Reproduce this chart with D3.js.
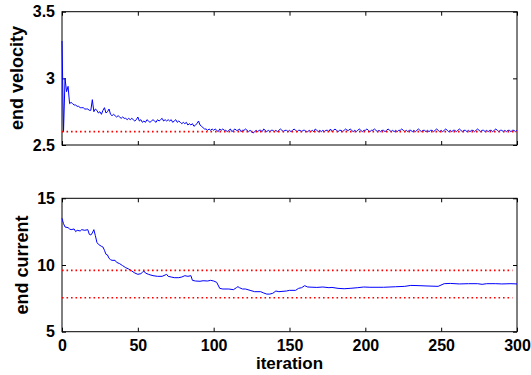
<!DOCTYPE html>
<html><head><meta charset="utf-8">
<script src="https://cdn.jsdelivr.net/npm/d3@7"></script>
<style>
html,body{margin:0;padding:0;background:#fff;}
svg{display:block;}
text{font-family:Arial,"Liberation Sans",Helvetica,sans-serif;font-weight:bold;fill:#000;}
</style></head>
<body>
<svg id="chart" width="531" height="375"></svg>
<script>
// ---- data ----
const velocity = [
3.28,2.60,3.00,2.90,2.94,2.81,2.82,2.81,2.80,2.80,
2.79,2.79,2.78,2.78,2.78,2.77,2.77,2.77,2.76,2.76,
2.84,2.75,2.77,2.76,2.74,2.75,2.73,2.76,2.78,2.74,
2.75,2.77,2.73,2.72,2.73,2.72,2.71,2.72,2.71,2.70,
2.71,2.70,2.70,2.69,2.70,2.69,2.70,2.69,2.68,2.69,
2.71,2.68,2.69,2.67,2.68,2.67,2.69,2.68,2.67,2.68,
2.69,2.68,2.67,2.69,2.68,2.69,2.70,2.68,2.69,2.68,
2.69,2.68,2.69,2.67,2.68,2.69,2.67,2.68,2.67,2.66,
2.67,2.66,2.67,2.65,2.66,2.65,2.66,2.64,2.65,2.66,
2.68,2.65,2.64,2.63,2.62,2.62,2.61,2.62,2.61,2.62,
2.61,2.62,2.61,2.60,2.62,2.61,2.62,2.61,2.61,2.60,
2.61,2.62,2.60,2.61,2.62,2.61,2.61,2.62,2.60,2.61,
2.61,2.62,2.61,2.60,2.61,2.60,2.59,2.60,2.61,2.60,
2.61,2.61,2.60,2.62,2.61,2.60,2.61,2.60,2.61,2.61,
2.60,2.61,2.60,2.61,2.62,2.61,2.60,2.61,2.61,2.60,
2.61,2.60,2.61,2.62,2.61,2.60,2.61,2.61,2.60,2.61,
2.61,2.60,2.60,2.61,2.60,2.61,2.60,2.62,2.61,2.60,
2.61,2.60,2.61,2.60,2.61,2.61,2.60,2.62,2.60,2.61,
2.62,2.61,2.60,2.61,2.61,2.60,2.61,2.62,2.61,2.61,
2.62,2.61,2.60,2.61,2.60,2.61,2.62,2.61,2.60,2.61,
2.61,2.62,2.61,2.60,2.61,2.61,2.62,2.61,2.60,2.61,
2.60,2.61,2.61,2.60,2.61,2.62,2.61,2.60,2.61,2.60,
2.61,2.60,2.61,2.61,2.62,2.61,2.60,2.61,2.60,2.61,
2.61,2.60,2.61,2.60,2.61,2.62,2.61,2.60,2.61,2.61,
2.60,2.61,2.60,2.61,2.61,2.60,2.61,2.62,2.61,2.60,
2.61,2.60,2.61,2.62,2.61,2.60,2.61,2.60,2.61,2.61,
2.60,2.61,2.62,2.61,2.60,2.61,2.61,2.60,2.61,2.60,
2.61,2.61,2.60,2.61,2.62,2.61,2.60,2.61,2.61,2.60,
2.61,2.60,2.61,2.61,2.60,2.61,2.62,2.61,2.60,2.61,
2.61,2.60,2.61,2.60,2.61,2.61,2.60,2.61,2.61,2.60,
2.61
];
const currentIter = [0,1,2,4,5,6,8,9,10,12,13,15,17,18,19,20,21,22,23,24,26,27,28,29,30,31,32,33,35,36,38,40,42,44,46,48,50,52,53,54,55,57,60,63,66,68,69,70,72,74,77,79,81,83,85,86,88,91,93,96,98,100,102,104,106,110,113,115,116,117,119,121,124,127,131,133,135,137,139,141,143,148,150,154,156,158,160,162,168,172,176,178,182,186,190,195,199,203,212,220,226,230,236,240,248,252,256,262,268,274,277,280,286,290,296,300];
const currentVal = [13.5,13.1,12.85,12.8,12.7,12.65,12.7,12.5,12.6,12.55,12.65,12.6,12.65,12.3,12.25,12.4,12.65,12.2,11.7,11.55,11.4,11.35,11.1,10.8,10.75,10.5,10.4,10.35,10.35,10.2,10.1,9.95,9.8,9.7,9.55,9.4,9.3,9.35,9.45,9.55,9.4,9.3,9.2,9.15,9.15,9.25,9.3,9.15,9.1,9.05,9.05,9.1,9.2,9.15,9.2,8.85,8.8,8.78,8.82,8.8,8.85,8.8,8.7,8.25,8.2,8.2,8.15,8.3,8.38,8.3,8.2,8.2,8.1,8.0,8.0,7.9,7.82,7.82,7.88,8.05,8.0,8.05,8.1,8.1,8.25,8.3,8.45,8.35,8.32,8.35,8.3,8.32,8.25,8.22,8.25,8.3,8.35,8.33,8.33,8.37,8.4,8.47,8.45,8.43,8.4,8.6,8.62,8.58,8.6,8.6,8.55,8.6,8.6,8.58,8.6,8.58];
const velocityTarget = [2.6];
const currentBounds = [9.6, 7.55];
const xTicks = [0,50,100,150,200,250,300];
const velTicks = [2.5,3,3.5];
const curTicks = [5,10,15];
const xTickLabels = ["0","50","100","150","200","250","300"];

// ---- layout ----
const svg = d3.select("#chart");
const L = 62, R = 517;
const x = d3.scaleLinear().domain([0,300]).range([L,R]);

function panel(top, bottom, domain, ticks, fmt, showX) {
  const y = d3.scaleLinear().domain(domain).range([bottom, top]);
  const g = svg.append("g");
  const tickSz = -4;
  g.append("g").attr("transform",`translate(0,${bottom})`)
    .call(d3.axisBottom(x).tickValues(xTicks).tickSizeInner(tickSz).tickSizeOuter(0).tickPadding(8)
      .tickFormat((d,i)=> showX ? xTickLabels[i] : ""));
  g.append("g").attr("transform",`translate(0,${top})`)
    .call(d3.axisTop(x).tickValues(xTicks).tickSizeInner(tickSz).tickSizeOuter(0).tickFormat(""));
  g.append("g").attr("transform",`translate(${L},0)`)
    .call(d3.axisLeft(y).tickValues(ticks).tickSizeInner(tickSz).tickSizeOuter(0).tickPadding(7).tickFormat(fmt));
  g.append("g").attr("transform",`translate(${R},0)`)
    .call(d3.axisRight(y).tickValues(ticks).tickSizeInner(tickSz).tickSizeOuter(0).tickFormat(""));
  g.selectAll(".domain").remove();
  g.selectAll(".tick line").attr("stroke","#000").attr("stroke-width",1);
  g.selectAll(".tick text").style("font-size","16px").attr("fill","#000");
  g.append("rect").attr("x",L).attr("y",top).attr("width",R-L).attr("height",bottom-top)
    .attr("fill","none").attr("stroke","#000").attr("stroke-width",1);
  return {g,y};
}

const p1 = panel(11.7, 145, [2.5,3.5], velTicks, d=>d3.format("")(d), false);
const p2 = panel(198.3, 331.7, [5,15], curTicks, d=>d3.format("")(d), true);

// blue series
const line1 = d3.line().x((d,i)=>x(i)).y(d=>p1.y(d));
p1.g.append("path").datum(velocity).attr("d",line1)
  .attr("fill","none").attr("stroke","#0000ff").attr("stroke-width",1);
const line2 = d3.line().x((d,i)=>x(currentIter[i])).y(d=>p2.y(d));
p2.g.append("path").datum(currentVal).attr("d",line2)
  .attr("fill","none").attr("stroke","#0000ff").attr("stroke-width",1);

// red reference lines
p1.g.selectAll(".ref").data(velocityTarget).enter().append("line")
  .attr("x1",x(0)).attr("x2",x(300)).attr("y1",d=>p1.y(d)).attr("y2",d=>p1.y(d))
  .attr("stroke","#ff0000").attr("stroke-width",1.6).attr("stroke-dasharray","1.6,2.9");
p2.g.selectAll(".ref").data(currentBounds).enter().append("line")
  .attr("x1",x(0)).attr("x2",x(297)).attr("y1",d=>p2.y(d)).attr("y2",d=>p2.y(d))
  .attr("stroke","#ff0000").attr("stroke-width",1.6).attr("stroke-dasharray","1.6,2.9");

// axis labels
svg.append("text").attr("transform","translate(23,78) rotate(-90)")
  .attr("text-anchor","middle").style("font-size","18px").text("end velocity");
svg.append("text").attr("transform","translate(28,265) rotate(-90)")
  .attr("text-anchor","middle").style("font-size","18px").text("end current");
svg.append("text").attr("x",(L+R)/2).attr("y",369)
  .attr("text-anchor","middle").style("font-size","17px").text("iteration");
</script>
</body></html>
